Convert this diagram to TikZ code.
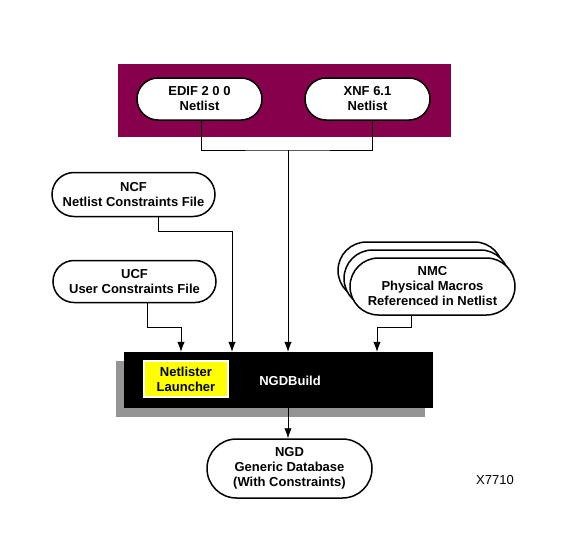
\documentclass[tikz,border=0pt]{standalone}
\usepackage{fontspec}
\setmainfont{Liberation Sans}
\usetikzlibrary{shapes.misc}
\usetikzlibrary{shadows}
\usetikzlibrary{arrows.meta}
\definecolor{bandred}{RGB}{135,0,75}
\definecolor{launchyellow}{RGB}{255,255,0}

\begin{document}
\begin{tikzpicture}[x=1pt,y=-1pt,
    font=\fontsize{13}{15}\selectfont\bfseries,
    pill/.style={rounded rectangle,draw,line width=1.5pt,fill=white,align=center,inner sep=0pt},
    link/.style={line width=0.8pt},
    arr/.style={line width=0.8pt,-{Latex[length=10pt,width=7.5pt]}}]
    \useasboundingbox (0,0) rectangle (577,533);

    % netlist band
    \fill[bandred] (118,64) rectangle (451,137);
    \node (edif) at (199.5,99) [pill,minimum width=125pt,minimum height=42pt] {EDIF 2 0 0\\Netlist};
    \node (xnf) at (367.5,99) [pill,minimum width=125pt,minimum height=42pt] {XNF 6.1\\Netlist};

    % constraint files
    \node (ncf) at (133.5,194.5) [pill,minimum width=163pt,minimum height=44pt] {NCF\\Netlist Constraints File};
    \node (ucf) at (134.5,281.5) [pill,minimum width=163pt,minimum height=42pt] {UCF\\User Constraints File};

    % stacked macros
    \node (nmcb) at (420.5,270.5) [pill,minimum width=165pt,minimum height=57pt] {};
    \node (nmcm) at (426.5,278.5) [pill,minimum width=165pt,minimum height=57pt] {};
    \node (nmc) at (432.5,286.5) [pill,minimum width=165pt,minimum height=57pt] {NMC\\Physical Macros\\Referenced in Netlist};

    % ngdbuild
    \node (ngdb) at (278.5,380) [fill=black,minimum width=309pt,minimum height=56pt,inner sep=0pt,
        general shadow={fill=black!42,shadow xshift=-8pt,shadow yshift=-9pt}] {};
    \node (launch) at (186,379) [fill=launchyellow,draw=white,line width=1.5pt,minimum width=84pt,
        minimum height=36pt,inner sep=0pt,align=center] {Netlister\\Launcher};
    \node (ngdlabel) at (290,381) [text=white] {NGDBuild};

    \node (ngd) at (289.5,468.5) [pill,minimum width=165pt,minimum height=59pt] {NGD\\Generic Database\\(With Constraints)};
    \node (tag) at (495,480) [font=\fontsize{13}{15}\selectfont] {X7710};

    % connectors
    \coordinate (join) at (288,150);
    \draw[link] ([xshift=1.5pt]edif.south) |- (join) -| ([xshift=4.5pt]xnf.south);
    \draw[arr] (join) -- (join |- ngdb.north);

    \coordinate (ncfbend) at (232,231);
    \draw[arr] ([xshift=24.5pt]ncf.south) |- (ncfbend) -- (ncfbend |- ngdb.north);

    \coordinate (ucfbend) at (181,327);
    \draw[arr] ([xshift=12.5pt]ucf.south) |- (ucfbend) -- (ucfbend |- ngdb.north);

    \coordinate (nmcbend) at (377,327);
    \draw[arr] ([xshift=-21.5pt]nmc.south) |- (nmcbend) -- (nmcbend |- ngdb.north);

    \draw[arr] (join |- ngdb.south) -- (join |- ngd.north);
\end{tikzpicture}
\end{document}
